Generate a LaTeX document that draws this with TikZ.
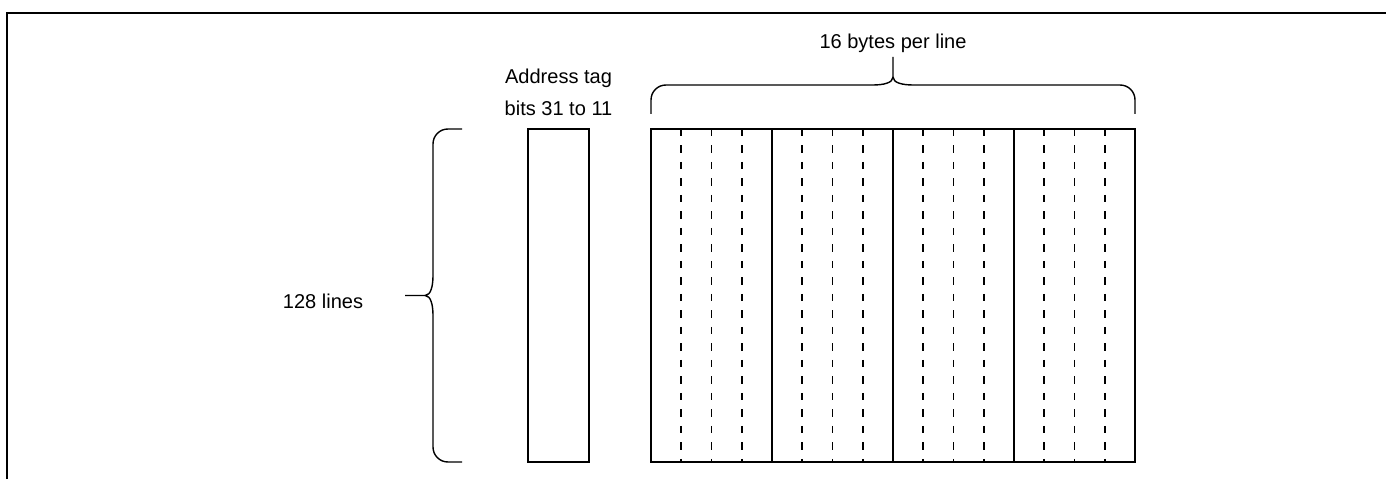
\documentclass[tikz,border=0pt]{standalone}
\usepackage{fontspec}
\setmainfont{Liberation Sans}
\usetikzlibrary{positioning,calc}

\tikzset{
	pics/wordbrace/.style = {code = {
		\pgfmathsetmacro\bracemid{#1/2}
		\pgfmathsetmacro\braceend{#1}
		\draw[curly] (0,0) -- (0,0.28) .. controls (0,0.45) and (0.135,0.58) .. (0.3,0.58)
			-- (\bracemid-0.4,0.58) .. controls (\bracemid-0.2,0.58) and (\bracemid,0.62) .. (\bracemid,0.74)
			.. controls (\bracemid,0.62) and (\bracemid+0.2,0.58) .. (\bracemid+0.4,0.58)
			-- (\braceend-0.3,0.58) .. controls (\braceend-0.135,0.58) and (\braceend,0.45) .. (\braceend,0.28) -- (\braceend,0)
			(\bracemid,0.74) -- (\bracemid,1.14);
	}}
}

\begin{document}
\begin{tikzpicture}[
		every node/.style = {font = \fontsize{11.4pt}{13pt}\selectfont},
		frame/.style = {line width = 1.2pt},
		cell/.style = {draw, line width = 1pt, shape = rectangle, minimum height = 6.66 cm, outer sep = 0pt, inner sep = 0pt},
		bytesep/.style = {line width = 1pt, dash pattern = on 0.15 cm off 0.18 cm},
		curly/.style = {line width = 0.8pt, line join = round}
	]
		\useasboundingbox (0,0) rectangle (27.72,9.58);
		\draw[frame] (0.14,0) -- (0.14,9.32) -- (27.72,9.32);

		% address tag column
		\node[cell, minimum width = 1.22 cm] (tag) at (11.17,3.67) {};
		\node[anchor = base] (tagbits) at ([yshift = 0.26 cm]tag.north) {bits 31 to 11};
		\node[anchor = base] (tagname) at ([yshift = 0.9 cm]tag.north) {Address tag};

		% data part of the line, four words
		\node[cell, minimum width = 2.42 cm, right = 1.24 cm of tag] (q1) {};
		\node[cell, minimum width = 2.42 cm, right = 0 cm of q1] (q2) {};
		\node[cell, minimum width = 2.42 cm, right = 0 cm of q2] (q3) {};
		\node[cell, minimum width = 2.42 cm, right = 0 cm of q3] (q4) {};
		\foreach \q in {q1,q2,q3,q4}
			\foreach \f in {0.25,0.5,0.75}
				\draw[bytesep] ($(\q.north west)!\f!(\q.north east)$) -- ($(\q.south west)!\f!(\q.south east)$);

		\pic at ([yshift = 0.3 cm]q1.north west) {wordbrace = 9.68};
		\node[anchor = base] (bytes) at ([yshift = 1.6 cm]q2.north east) {16 bytes per line};

		\pic[rotate = 90] at ([xshift = -1.32 cm]tag.south west) {wordbrace = 6.66};
		\node[anchor = base] (lines) at ([xshift = -4.1 cm, yshift = -0.26 cm]tag.west) {128 lines};
	\end{tikzpicture}
\end{document}
